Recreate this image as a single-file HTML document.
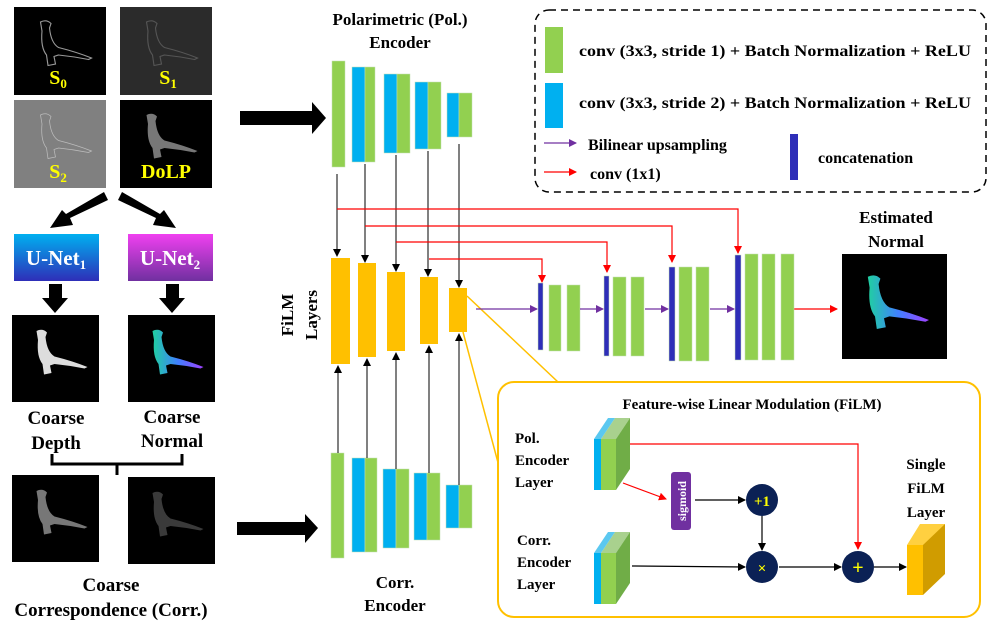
<!DOCTYPE html>
<html><head><meta charset="utf-8"><style>
html,body{margin:0;padding:0;background:#fff;}
svg{display:block;}
text{font-family:"Liberation Serif",serif;font-weight:bold;}
</style></head><body>
<svg width="997" height="632" viewBox="0 0 997 632" xmlns="http://www.w3.org/2000/svg">
<defs>
<marker id="ak" markerWidth="8" markerHeight="8" refX="7" refY="4" orient="auto" markerUnits="userSpaceOnUse"><path d="M0,0 L8,4 L0,8 z" fill="#000"/></marker>
<marker id="ar" markerWidth="8" markerHeight="8" refX="7" refY="4" orient="auto" markerUnits="userSpaceOnUse"><path d="M0,0 L8,4 L0,8 z" fill="#f00"/></marker>
<marker id="ap" markerWidth="8" markerHeight="8" refX="7" refY="4" orient="auto" markerUnits="userSpaceOnUse"><path d="M0,0 L8,4 L0,8 z" fill="#7030a0"/></marker>
<linearGradient id="g1" x1="0" y1="0" x2="0" y2="1"><stop offset="0" stop-color="#00b0f0"/><stop offset="1" stop-color="#2e2eb8"/></linearGradient>
<linearGradient id="g2" x1="0" y1="0" x2="0" y2="1"><stop offset="0" stop-color="#f040f0"/><stop offset="1" stop-color="#7030a0"/></linearGradient>
<linearGradient id="nrm" x1="0" y1="0" x2="1" y2="0"><stop offset="0" stop-color="#20d0a0"/><stop offset="0.5" stop-color="#4080ff"/><stop offset="1" stop-color="#a040ff"/></linearGradient>
<path id="seal" d="M22,12 Q30,8 36,14 L34,20 Q36,40 46,46 Q70,52 90,60 L86,62 Q66,58 46,56 L40,58 L42,68 L32,70 L30,56 Q22,46 24,24 Z"/>
</defs>

<!-- top-left images -->
<rect x="14" y="7" width="92" height="88" fill="#000"/>
<rect x="120" y="7" width="92" height="88" fill="#2b2b2b"/>
<rect x="14" y="100" width="92" height="88" fill="#808080"/>
<rect x="120" y="100" width="92" height="88" fill="#000"/>
<use href="#seal" transform="translate(24,13) scale(0.75)" fill="none" stroke="#999" stroke-width="1.5"/>
<use href="#seal" transform="translate(130,13) scale(0.75)" fill="none" stroke="#555" stroke-width="1.5"/>
<use href="#seal" transform="translate(24,106) scale(0.75)" fill="none" stroke="#bbb" stroke-width="1"/>
<use href="#seal" transform="translate(130,106) scale(0.75)" fill="#777"/>
<text x="58" y="84" font-size="20" fill="#ff0" text-anchor="middle">S<tspan font-size="13" dy="4">0</tspan></text>
<text x="168" y="84" font-size="20" fill="#ff0" text-anchor="middle">S<tspan font-size="13" dy="4">1</tspan></text>
<text x="58" y="178" font-size="20" fill="#ff0" text-anchor="middle">S<tspan font-size="13" dy="4">2</tspan></text>
<text x="166" y="178" font-size="20" fill="#ff0" text-anchor="middle">DoLP</text>

<!-- fat diag arrows -->
<polygon points="104,192 108,200 70,218 73,225 50,228 62,210 66,214" fill="#000"/>
<polygon points="122,192 118,200 156,218 153,225 176,228 164,210 160,214" fill="#000"/>

<rect x="14" y="234" width="85" height="47" fill="url(#g1)"/>
<rect x="128" y="234" width="85" height="47" fill="url(#g2)"/>
<text x="56" y="265" font-size="21" fill="#fff" text-anchor="middle">U-Net<tspan font-size="13" dy="4">1</tspan></text>
<text x="170" y="265" font-size="21" fill="#fff" text-anchor="middle">U-Net<tspan font-size="13" dy="4">2</tspan></text>
<polygon points="49,284 62,284 62,298 68,298 55,313 42,298 49,298" fill="#000"/>
<polygon points="166,284 179,284 179,298 185,298 172,313 159,298 166,298" fill="#000"/>

<rect x="12" y="315" width="87" height="87" fill="#000"/>
<rect x="128" y="315" width="87" height="87" fill="#000"/>
<use href="#seal" transform="translate(20,322) scale(0.75)" fill="#ddd"/>
<use href="#seal" transform="translate(136,322) scale(0.75)" fill="url(#nrm)"/>
<text x="56" y="424" font-size="19" fill="#000" text-anchor="middle">Coarse</text>
<text x="56" y="449" font-size="19" fill="#000" text-anchor="middle">Depth</text>
<text x="172" y="423" font-size="19" fill="#000" text-anchor="middle">Coarse</text>
<text x="172" y="447" font-size="19" fill="#000" text-anchor="middle">Normal</text>
<path d="M52,454 V464 H182 V454 M117,464 V475" fill="none" stroke="#000" stroke-width="3"/>
<rect x="12" y="475" width="87" height="87" fill="#000"/>
<rect x="128" y="477" width="87" height="87" fill="#000"/>
<use href="#seal" transform="translate(20,482) scale(0.75)" fill="#777"/>
<use href="#seal" transform="translate(136,484) scale(0.75)" fill="#3a3a3a"/>
<text x="111" y="591" font-size="19" fill="#000" text-anchor="middle">Coarse</text>
<text x="111" y="616" font-size="19" fill="#000" text-anchor="middle">Correspondence (Corr.)</text>

<!-- big right arrows -->
<polygon points="240,111 312,111 312,102 326,118 312,134 312,125 240,125" fill="#000"/>
<polygon points="237,522 305,522 305,514 318,528 305,543 305,535 237,535" fill="#000"/>

<!-- titles -->
<text x="400" y="25" font-size="17" text-anchor="middle">Polarimetric (Pol.)</text>
<text x="400" y="48" font-size="17" text-anchor="middle">Encoder</text>
<text x="395" y="588" font-size="17" text-anchor="middle">Corr.</text>
<text x="395" y="611" font-size="17" text-anchor="middle">Encoder</text>
<text transform="translate(293,315) rotate(-90)" font-size="17" text-anchor="middle">FiLM</text>
<text transform="translate(317,315) rotate(-90)" font-size="17" text-anchor="middle">Layers</text>

<!-- pol encoder -->
<g stroke="#c5e0b4" stroke-width="0.5">
<rect x="332" y="61" width="13" height="106" fill="#92d050"/>
<rect x="352" y="67" width="13" height="95" fill="#00b0f0"/><rect x="365" y="67" width="10" height="95" fill="#92d050"/>
<rect x="384" y="74" width="13" height="79" fill="#00b0f0"/><rect x="397" y="74" width="13" height="79" fill="#92d050"/>
<rect x="415" y="82" width="13" height="67" fill="#00b0f0"/><rect x="428" y="82" width="13" height="67" fill="#92d050"/>
<rect x="447" y="93" width="12" height="44" fill="#00b0f0"/><rect x="459" y="93" width="13" height="44" fill="#92d050"/>
<!-- corr encoder -->
<rect x="331" y="453" width="13" height="105" fill="#92d050"/>
<rect x="352" y="458" width="13" height="94" fill="#00b0f0"/><rect x="365" y="458" width="12" height="94" fill="#92d050"/>
<rect x="383" y="469" width="13" height="79" fill="#00b0f0"/><rect x="396" y="469" width="13" height="79" fill="#92d050"/>
<rect x="414" y="473" width="13" height="67" fill="#00b0f0"/><rect x="427" y="473" width="13" height="67" fill="#92d050"/>
<rect x="446" y="485" width="13" height="43" fill="#00b0f0"/><rect x="459" y="485" width="13" height="43" fill="#92d050"/>
</g>

<!-- yellow lines to FiLM box -->
<line x1="467" y1="296" x2="558" y2="382" stroke="#ffc000" stroke-width="1.5"/>
<line x1="463" y1="332" x2="500" y2="470" stroke="#ffc000" stroke-width="1.5"/>

<!-- FiLM bars -->
<rect x="331" y="258" width="19" height="106" fill="#ffc000"/>
<rect x="358" y="263" width="18" height="94" fill="#ffc000"/>
<rect x="387" y="272" width="18" height="79" fill="#ffc000"/>
<rect x="420" y="277" width="18" height="67" fill="#ffc000"/>
<rect x="449" y="288" width="18" height="44" fill="#ffc000"/>

<!-- black vertical arrows -->
<g stroke="#000" stroke-width="1" marker-end="url(#ak)">
<line x1="337" y1="174" x2="337" y2="256"/>
<line x1="365" y1="164" x2="365" y2="262"/>
<line x1="396" y1="155" x2="396" y2="271"/>
<line x1="428" y1="151" x2="428" y2="276"/>
<line x1="459" y1="144" x2="459" y2="287"/>
<line x1="338" y1="453" x2="338" y2="366"/>
<line x1="367" y1="458" x2="367" y2="359"/>
<line x1="396" y1="469" x2="396" y2="353"/>
<line x1="429" y1="473" x2="429" y2="346"/>
<line x1="459" y1="485" x2="459" y2="334"/>
</g>

<!-- red skip connections -->
<g fill="none" stroke="#f00" stroke-width="1.2" marker-end="url(#ar)">
<path d="M337,209 H738 V253"/>
<path d="M365,226 H672 V262"/>
<path d="M396,242 H607 V272"/>
<path d="M429,259 H542 V282"/>
<line x1="794" y1="309" x2="837" y2="309"/>
</g>

<!-- decoder -->
<g stroke="#c5e0b4" stroke-width="0.5">
<rect x="538" y="283" width="5" height="67" fill="#2e2eb8"/>
<rect x="549" y="285" width="12" height="66" fill="#92d050"/><rect x="567" y="285" width="13" height="66" fill="#92d050"/>
<rect x="604" y="276" width="5" height="80" fill="#2e2eb8"/>
<rect x="613" y="277" width="13" height="79" fill="#92d050"/><rect x="631" y="277" width="13" height="79" fill="#92d050"/>
<rect x="669" y="267" width="6" height="94" fill="#2e2eb8"/>
<rect x="679" y="267" width="13" height="94" fill="#92d050"/><rect x="696" y="267" width="13" height="94" fill="#92d050"/>
<rect x="735" y="255" width="6" height="105" fill="#2e2eb8"/>
<rect x="745" y="254" width="13" height="106" fill="#92d050"/><rect x="762" y="254" width="13" height="106" fill="#92d050"/><rect x="781" y="254" width="13" height="106" fill="#92d050"/>
</g>
<g stroke="#7030a0" stroke-width="1.2" marker-end="url(#ap)">
<line x1="476" y1="309" x2="537" y2="309"/>
<line x1="580" y1="309" x2="603" y2="309"/>
<line x1="645" y1="309" x2="668" y2="309"/>
<line x1="710" y1="309" x2="734" y2="309"/>
</g>

<!-- estimated normal -->
<text x="896" y="223" font-size="17" text-anchor="middle">Estimated</text>
<text x="896" y="247" font-size="17" text-anchor="middle">Normal</text>
<rect x="842" y="254" width="105" height="105" fill="#000"/>
<use href="#seal" transform="translate(848,266) scale(0.9)" fill="url(#nrm)"/>

<!-- legend -->
<rect x="535" y="10" width="451" height="182" rx="14" fill="none" stroke="#000" stroke-width="1.5" stroke-dasharray="7,5"/>
<rect x="545" y="27" width="18" height="46" fill="#92d050"/>
<rect x="545" y="83" width="18" height="45" fill="#00b0f0"/>
<text x="579" y="56" font-size="16" textLength="392" lengthAdjust="spacingAndGlyphs">conv (3x3,  stride 1) + Batch Normalization + ReLU</text>
<text x="579" y="108" font-size="16" textLength="392" lengthAdjust="spacingAndGlyphs">conv (3x3,  stride 2) + Batch Normalization + ReLU</text>
<line x1="544" y1="143" x2="576" y2="143" stroke="#7030a0" stroke-width="1.2" marker-end="url(#ap)"/>
<line x1="544" y1="172" x2="576" y2="172" stroke="#f00" stroke-width="1.2" marker-end="url(#ar)"/>
<text x="588" y="150" font-size="16">Bilinear upsampling</text>
<text x="590" y="179" font-size="16">conv (1x1)</text>
<rect x="790" y="134" width="8" height="46" fill="#2e2eb8"/>
<text x="818" y="163" font-size="16">concatenation</text>

<!-- FiLM box -->
<rect x="498" y="382" width="482" height="235" rx="16" fill="#fff" stroke="#ffc000" stroke-width="2"/>
<text x="752" y="409" font-size="15" text-anchor="middle">Feature-wise Linear Modulation (FiLM)</text>
<text x="515" y="443" font-size="15">Pol.</text>
<text x="515" y="465" font-size="15">Encoder</text>
<text x="515" y="487" font-size="15">Layer</text>
<text x="517" y="545" font-size="15">Corr.</text>
<text x="517" y="567" font-size="15">Encoder</text>
<text x="517" y="589" font-size="15">Layer</text>
<text x="926" y="469" font-size="15" text-anchor="middle">Single</text>
<text x="926" y="493" font-size="15" text-anchor="middle">FiLM</text>
<text x="926" y="517" font-size="15" text-anchor="middle">Layer</text>
<!-- 3D blocks -->
<g>
<polygon points="601,439 615,418 630,418 616,439" fill="#a9d18e"/>
<rect x="594" y="439" width="7" height="51" fill="#00b0f0"/>
<rect x="601" y="439" width="15" height="51" fill="#92d050"/>
<polygon points="616,439 630,418 630,469 616,490" fill="#70ad47"/>
<polygon points="594,439 601,439 615,418 608,418" fill="#5bc8f0"/>
</g>
<g transform="translate(0,114)">
<polygon points="601,439 615,418 630,418 616,439" fill="#a9d18e"/>
<rect x="594" y="439" width="7" height="51" fill="#00b0f0"/>
<rect x="601" y="439" width="15" height="51" fill="#92d050"/>
<polygon points="616,439 630,418 630,469 616,490" fill="#70ad47"/>
<polygon points="594,439 601,439 615,418 608,418" fill="#5bc8f0"/>
</g>
<g>
<polygon points="907,545 920,524 945,524 932,545" fill="#ffd040"/>
<rect x="907" y="545" width="16" height="50" fill="#ffc000"/>
<polygon points="923,545 945,524 945,574 923,595" fill="#d09c00"/>
</g>
<rect x="671" y="472" width="20" height="58" rx="3" fill="#7030a0"/>
<text transform="translate(686,501) rotate(-90)" font-size="12" fill="#fff" text-anchor="middle">sigmoid</text>
<line x1="623" y1="483" x2="666" y2="499" stroke="#f00" stroke-width="1.2" marker-end="url(#ar)"/>
<path d="M630,444 H858 V549" fill="none" stroke="#f00" stroke-width="1.2" marker-end="url(#ar)"/>
<g stroke="#000" stroke-width="1.2" marker-end="url(#ak)">
<line x1="695" y1="500" x2="745" y2="500"/>
<line x1="762" y1="516" x2="762" y2="550"/>
<line x1="632" y1="566" x2="745" y2="567"/>
<line x1="779" y1="567" x2="841" y2="567"/>
<line x1="874" y1="567" x2="906" y2="567"/>
</g>
<circle cx="762" cy="500" r="16" fill="#0b2155"/>
<circle cx="762" cy="567" r="16" fill="#0b2155"/>
<circle cx="858" cy="567" r="16" fill="#0b2155"/>
<text x="762" y="506" font-size="15" fill="#ff0" text-anchor="middle">+1</text>
<text x="762" y="573" font-size="15" fill="#ff0" text-anchor="middle" font-weight="normal">×</text>
<text x="858" y="574" font-size="20" fill="#ff0" text-anchor="middle" font-weight="normal">+</text>
</svg>
</body></html>
